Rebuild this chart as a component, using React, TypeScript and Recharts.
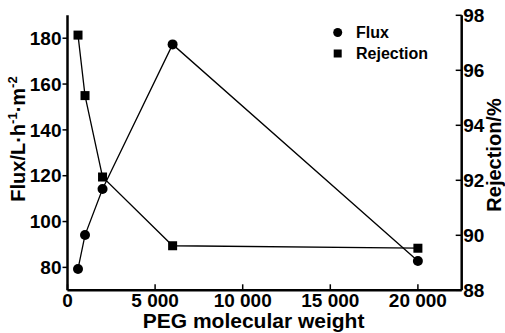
import React from 'react';
import { LineChart, Line, XAxis, YAxis, Legend } from 'recharts';

const molecularWeight = [600, 1000, 2000, 6000, 20000];
const fluxValues = [79.3, 94.1, 114.2, 177.3, 82.8];
const rejectionValues = [97.28, 95.08, 92.12, 89.62, 89.53];
const xTicks = [0, 5000, 10000, 15000, 20000];
const fluxTicks = [80, 100, 120, 140, 160, 180];
const rejectionTicks = [88, 90, 92, 94, 96, 98];

const data = molecularWeight.map((m, i) => ({
  mw: m,
  flux: fluxValues[i],
  rejection: rejectionValues[i],
}));

const FONT = '"Liberation Sans", Arial, Helvetica, sans-serif';

const fmt = (v: number) =>
  v === 0 ? '0' : `${Math.floor(v / 1000)} ${String(v % 1000).padStart(3, '0')}`;

const SquareDot = (props: any) => {
  const { cx, cy, index } = props;
  if (cx == null || cy == null) return null;
  return <rect key={`sq-${index}`} x={cx - 4.5} y={cy - 4.5} width={9} height={9} fill="#000" />;
};

const CircleDot = (props: any) => {
  const { cx, cy, index } = props;
  if (cx == null || cy == null) return null;
  return <circle key={`ci-${index}`} cx={cx} cy={cy} r={5} fill="#000" />;
};

const LeftTitle = () => (
  <text
    transform="translate(25,139) rotate(-90)"
    textAnchor="middle"
    fontFamily={FONT}
    fontWeight="bold"
    fontSize={20}
    fill="#000"
  >
    Flux/L·h
    <tspan dy={-8} fontSize={13}>-1</tspan>
    <tspan dy={8}>·m</tspan>
    <tspan dy={-8} fontSize={13}>-2</tspan>
  </text>
);

const RightTitle = () => (
  <text
    transform="translate(501,155) rotate(-90)"
    textAnchor="middle"
    fontFamily={FONT}
    fontWeight="bold"
    fontSize={20}
    fill="#000"
  >
    Rejection/%
  </text>
);

const BottomTitle = () => (
  <text
    x={253.6}
    y={328}
    textAnchor="middle"
    fontFamily={FONT}
    fontWeight="bold"
    fontSize={21}
    fill="#000"
  >
    PEG molecular weight
  </text>
);

const renderLegend = () => (
  <div style={{ fontFamily: FONT, fontWeight: 'bold', fontSize: 16, color: '#000', lineHeight: '21px' }}>
    <div style={{ display: 'flex', alignItems: 'center', height: 21 }}>
      <svg width={26} height={21} style={{ display: 'block' }}>
        <circle cx={7.7} cy={10.5} r={4.5} fill="#000" />
      </svg>
      <span>Flux</span>
    </div>
    <div style={{ display: 'flex', alignItems: 'center', height: 21 }}>
      <svg width={26} height={21} style={{ display: 'block' }}>
        <rect x={3.7} y={6.5} width={8} height={8} fill="#000" />
      </svg>
      <span>Rejection</span>
    </div>
  </div>
);

const tickStyle = { fill: '#000', fontSize: 19, fontWeight: 'bold', fontFamily: FONT };
const axisLine = { stroke: '#000', strokeWidth: 2.5 };
const tickLine = { stroke: '#000', strokeWidth: 1.5 };

export default function App() {
  return (
    <div style={{ position: 'absolute', left: 0, top: 0, width: 505, height: 333, background: '#fff' }}>
      <LineChart width={505} height={333} data={data} margin={{ top: 15.3, right: 0, bottom: 0, left: 0 }}>
        <XAxis
          dataKey="mw"
          type="number"
          domain={[0, 22500]}
          ticks={xTicks}
          tickFormatter={fmt}
          height={42.7}
          axisLine={axisLine}
          tickLine={tickLine}
          tickSize={-6}
          tickMargin={9.7}
          tick={tickStyle}
          interval={0}
          label={<BottomTitle />}
        />
        <XAxis
          xAxisId="top"
          orientation="top"
          dataKey="mw"
          type="number"
          domain={[0, 22500]}
          height={0}
          tick={false}
          tickLine={false}
          axisLine={axisLine}
        />
        <YAxis
          yAxisId="left"
          domain={[70, 190]}
          ticks={fluxTicks}
          width={67.5}
          axisLine={axisLine}
          tickLine={tickLine}
          tickSize={5}
          tickMargin={1}
          tick={tickStyle}
          interval={0}
          label={<LeftTitle />}
        />
        <YAxis
          yAxisId="right"
          orientation="right"
          domain={[88, 98]}
          ticks={rejectionTicks}
          width={43.3}
          axisLine={axisLine}
          tickLine={tickLine}
          tickSize={-6}
          tickMargin={7.5}
          tick={{ ...tickStyle, textAnchor: 'start' }}
          interval={0}
          label={<RightTitle />}
        />
        <Legend
          layout="vertical"
          align="center"
          verticalAlign="middle"
          wrapperStyle={{ left: 330, top: 21.5, width: 'auto', height: 'auto' }}
          content={renderLegend}
        />
        <Line
          yAxisId="left"
          dataKey="flux"
          name="Flux"
          type="linear"
          stroke="#000"
          strokeWidth={1.3}
          dot={<CircleDot />}
          activeDot={false}
          isAnimationActive={false}
        />
        <Line
          yAxisId="right"
          dataKey="rejection"
          name="Rejection"
          type="linear"
          stroke="#000"
          strokeWidth={1.3}
          dot={<SquareDot />}
          activeDot={false}
          isAnimationActive={false}
        />
      </LineChart>
    </div>
  );
}
